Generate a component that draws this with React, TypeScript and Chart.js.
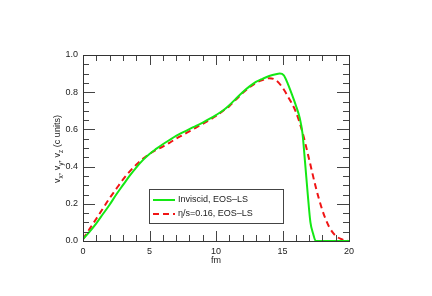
import React, { useEffect, useRef } from "react";
import { Chart, registerables } from "chart.js";

Chart.register(...registerables);

const inviscidX = [0, 0.5, 1, 1.5, 2, 2.5, 3, 3.5, 4, 4.5, 5, 5.5, 6, 6.5, 7, 7.5, 8, 8.5, 9, 9.5, 10, 10.5, 11, 11.5, 12, 12.5, 13, 13.5, 14, 14.5, 14.8, 15.1, 15.4, 15.7, 16, 16.3, 16.5, 16.7, 16.9, 17.1, 17.3, 17.5, 18, 19, 20];
const inviscidY = [0.01, 0.05, 0.095, 0.145, 0.195, 0.25, 0.3, 0.35, 0.395, 0.435, 0.468, 0.495, 0.52, 0.543, 0.565, 0.584, 0.602, 0.619, 0.637, 0.656, 0.677, 0.7, 0.73, 0.765, 0.8, 0.83, 0.855, 0.872, 0.887, 0.897, 0.9, 0.89, 0.845, 0.79, 0.73, 0.66, 0.58, 0.42, 0.25, 0.1, 0.04, 0.0, 0, 0, 0];

const viscousX = [0, 0.5, 1, 1.5, 2, 2.5, 3, 3.5, 4, 4.5, 5, 5.5, 6, 6.5, 7, 7.5, 8, 8.5, 9, 9.5, 10, 10.5, 11, 11.5, 12, 12.5, 13, 13.5, 14, 14.5, 15, 15.5, 16, 16.5, 17, 17.5, 18, 18.5, 19, 19.5, 20];
const viscousY = [0.01, 0.065, 0.12, 0.175, 0.23, 0.28, 0.33, 0.373, 0.41, 0.442, 0.468, 0.49, 0.508, 0.528, 0.55, 0.57, 0.59, 0.61, 0.63, 0.65, 0.672, 0.698, 0.725, 0.76, 0.795, 0.825, 0.85, 0.865, 0.875, 0.865, 0.825, 0.765, 0.695, 0.585, 0.44, 0.29, 0.165, 0.077, 0.028, 0.008, 0];

const seriesLabels = ["Inviscid, EOS\u2013LS", "\u03b7/s=0.16, EOS\u2013LS"];
const xTickLabels = [0, 5, 10, 15, 20];
const yTickLabels = [0, 0.2, 0.4, 0.6, 0.8, 1.0];
const xTitle = "fm";

const GREEN = "rgb(20,232,20)";
const RED = "rgb(240,20,20)";
const FONT = "Liberation Sans, Arial, sans-serif";

const decorPlugin = {
  id: "decor",
  afterDraw(chart: any) {
    const ctx = chart.ctx;
    const a = chart.chartArea;
    const xs = chart.scales.x;
    const ys = chart.scales.y;
    ctx.save();
    ctx.strokeStyle = "#444";
    ctx.lineWidth = 1;
    ctx.beginPath();
    for (let v = 0; v <= 20; v += 1) {
      const px = Math.round(xs.getPixelForValue(v)) + 0.5;
      const len = v % 5 === 0 ? 10 : 6;
      ctx.moveTo(px, a.bottom);
      ctx.lineTo(px, a.bottom - len);
      ctx.moveTo(px, a.top);
      ctx.lineTo(px, a.top + len);
    }
    for (let i = 0; i <= 20; i++) {
      const v = i * 0.05;
      const py = Math.round(ys.getPixelForValue(v)) + 0.5;
      const len = i % 4 === 0 ? 12 : 6;
      ctx.moveTo(a.left, py);
      ctx.lineTo(a.left + len, py);
      ctx.moveTo(a.right, py);
      ctx.lineTo(a.right - len, py);
    }
    ctx.stroke();
    ctx.strokeStyle = "#333";
    ctx.strokeRect(Math.round(a.left) + 0.5, Math.round(a.top) + 0.5, Math.round(a.right - a.left), Math.round(a.bottom - a.top));

    ctx.fillStyle = "#222";
    ctx.font = `9px ${FONT}`;
    ctx.textAlign = "center";
    ctx.textBaseline = "middle";
    ctx.fillText(xTitle, (a.left + a.right) / 2, 261);

    const parts: [string, boolean][] = [
      ["v", false], ["x", true], [", v", false], ["y", true], [", v", false], ["z", true], [" (c units)", false],
    ];
    const mainFont = `9px ${FONT}`;
    const subFont = `6.5px ${FONT}`;
    let total = 0;
    for (const [t, s] of parts) {
      ctx.font = s ? subFont : mainFont;
      total += ctx.measureText(t).width;
    }
    ctx.save();
    ctx.translate(57, 149);
    ctx.rotate(-Math.PI / 2);
    ctx.textAlign = "left";
    ctx.textBaseline = "alphabetic";
    let cx = -total / 2;
    for (const [t, s] of parts) {
      ctx.font = s ? subFont : mainFont;
      ctx.fillText(t, cx, s ? 5.5 : 3);
      cx += ctx.measureText(t).width;
    }
    ctx.restore();

    const lx = 149.5, ly = 189.5, lw = 134, lh = 34;
    ctx.fillStyle = "#fff";
    ctx.fillRect(lx, ly, lw, lh);
    ctx.strokeStyle = "#444";
    ctx.strokeRect(lx, ly, lw, lh);
    const rows = [
      { y: 200, dash: [] as number[] },
      { y: 214, dash: [6, 4] },
    ];
    rows.forEach((r, i) => {
      const ds = chart.data.datasets[i];
      ctx.strokeStyle = ds.borderColor;
      ctx.lineWidth = 2;
      ctx.setLineDash(r.dash);
      ctx.beginPath();
      ctx.moveTo(153, r.y);
      ctx.lineTo(175, r.y);
      ctx.stroke();
      ctx.setLineDash([]);
      ctx.fillStyle = "#222";
      ctx.font = mainFont;
      ctx.textAlign = "left";
      ctx.textBaseline = "middle";
      ctx.fillText(ds.label, 178, r.y);
    });
    ctx.restore();
  },
};

export default function App() {
  const ref = useRef<HTMLCanvasElement>(null);
  useEffect(() => {
    if (!ref.current) return;
    const chart = new Chart(ref.current, {
      type: "line",
      data: {
        datasets: [
          {
            label: seriesLabels[0],
            data: inviscidX.map((x, i) => ({ x, y: inviscidY[i] })),
            borderColor: GREEN,
            borderWidth: 2,
            pointRadius: 0,
            fill: false,
            cubicInterpolationMode: "monotone",
          },
          {
            label: seriesLabels[1],
            data: viscousX.map((x, i) => ({ x, y: viscousY[i] })),
            borderColor: RED,
            borderWidth: 2,
            borderDash: [6, 4],
            pointRadius: 0,
            fill: false,
            cubicInterpolationMode: "monotone",
          },
        ],
      },
      options: {
        responsive: false,
        animation: false,
        devicePixelRatio: 1,
        layout: { padding: { left: 0, top: 55, right: 83, bottom: 0 } },
        plugins: { legend: { display: false }, tooltip: { enabled: false } },
        scales: {
          x: {
            type: "linear",
            min: 0,
            max: 20,
            afterFit: (s: any) => { s.height = 55; },
            afterBuildTicks: (s: any) => { s.ticks = xTickLabels.map((v) => ({ value: v })); },
            grid: { display: false, drawTicks: false },
            border: { display: false },
            ticks: { padding: 5, color: "#222", font: { size: 9, family: FONT }, maxRotation: 0, callback: (v: any) => String(v) },
          },
          y: {
            type: "linear",
            min: 0,
            max: 1,
            afterFit: (s: any) => { s.width = 83; },
            afterBuildTicks: (s: any) => { s.ticks = yTickLabels.map((v) => ({ value: v })); },
            grid: { display: false, drawTicks: false },
            border: { display: false },
            ticks: { padding: 5, color: "#222", font: { size: 9, family: FONT }, callback: (v: any) => Number(v).toFixed(1) },
          },
        },
      },
      plugins: [decorPlugin],
    });
    return () => chart.destroy();
  }, []);
  return (
    <div style={{ position: "absolute", left: 0, top: 0, width: 432, height: 296, background: "#fff" }}>
      <canvas ref={ref} width={432} height={296} style={{ width: 432, height: 296 }} />
    </div>
  );
}
